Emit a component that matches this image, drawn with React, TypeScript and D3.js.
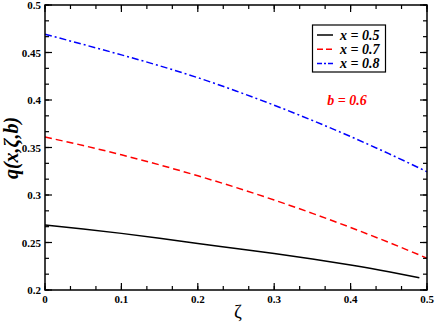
import React from "react";
import * as d3 from "d3";

const zeta = [0, 0.05, 0.1, 0.15, 0.2, 0.25, 0.3, 0.35, 0.4, 0.45, 0.5];
const zetaBlack = [0, 0.05, 0.1, 0.15, 0.2, 0.25, 0.3, 0.35, 0.4, 0.45, 0.49];
const qX05 = [0.2685, 0.2643, 0.2596, 0.2545, 0.249, 0.2438, 0.2385, 0.2326, 0.2262, 0.2192, 0.213];
const qX07 = [0.361, 0.3521, 0.3423, 0.3317, 0.3202, 0.3079, 0.2947, 0.2807, 0.2658, 0.2501, 0.2335];
const qX08 = [0.4692, 0.4585, 0.4475, 0.436, 0.4235, 0.4095, 0.3945, 0.3785, 0.3615, 0.3435, 0.3245];
const legendLabels = ["x = 0.5", "x = 0.7", "x = 0.8"];
const xTicks = [0, 0.1, 0.2, 0.3, 0.4, 0.5];
const yTicks = [0.2, 0.25, 0.3, 0.35, 0.4, 0.45, 0.5];

const W = 436, H = 327;
const L = 45, R = 427, T = 5, B = 290;

export default function App() {
  const x = d3.scaleLinear().domain([0, 0.5]).range([L, R]);
  const y = d3.scaleLinear().domain([0.2, 0.5]).range([B, T]);
  const line = d3.line<[number, number]>().x(d => x(d[0])).y(d => y(d[1])).curve(d3.curveMonotoneX);

  const series = [
    { xs: zetaBlack, ys: qX05, color: "#000", dash: "none" },
    { xs: zeta, ys: qX07, color: "#ff0000", dash: "7,4" },
    { xs: zeta, ys: qX08, color: "#0000ff", dash: "7,3,2,3" },
  ];

  const xMinor = d3.range(0, 0.5001, 0.1 / 3);
  const yMinor = d3.range(0.2, 0.5001, 0.05 / 3);
  const font = "'Liberation Serif', 'Times New Roman', 'DejaVu Serif', serif";

  return (
    <svg width={W} height={H} style={{ position: "absolute", left: 0, top: 0 }}>
      <rect width={W} height={H} fill="#fff" />
      {series.map((s, i) => (
        <path key={i} d={line(s.xs.map((v, j) => [v, s.ys[j]]) as [number, number][]) || ""}
          fill="none" stroke={s.color} strokeWidth={1.5} strokeDasharray={s.dash} />
      ))}
      {xMinor.map((v, i) => (
        <g key={"xm" + i} stroke="#000" strokeWidth={1.2}>
          <line x1={x(v)} x2={x(v)} y1={B} y2={B - 4} />
          <line x1={x(v)} x2={x(v)} y1={T} y2={T + 4} />
        </g>
      ))}
      {xTicks.map((v, i) => (
        <g key={"xt" + i}>
          <line x1={x(v)} x2={x(v)} y1={B} y2={B - 7} stroke="#000" strokeWidth={1.2} />
          <line x1={x(v)} x2={x(v)} y1={T} y2={T + 7} stroke="#000" strokeWidth={1.2} />
          <text x={x(v)} y={B + 13} textAnchor="middle" fontFamily={font} fontWeight="bold" fontSize={11}>{String(v)}</text>
        </g>
      ))}
      {yMinor.map((v, i) => (
        <g key={"ym" + i} stroke="#000" strokeWidth={1.2}>
          <line x1={L} x2={L + 4} y1={y(v)} y2={y(v)} />
          <line x1={R} x2={R - 4} y1={y(v)} y2={y(v)} />
        </g>
      ))}
      {yTicks.map((v, i) => (
        <g key={"yt" + i}>
          <line x1={L} x2={L + 7} y1={y(v)} y2={y(v)} stroke="#000" strokeWidth={1.2} />
          <line x1={R} x2={R - 7} y1={y(v)} y2={y(v)} stroke="#000" strokeWidth={1.2} />
          <text x={L - 4} y={y(v) + 4} textAnchor="end" fontFamily={font} fontWeight="bold" fontSize={11}>{String(v)}</text>
        </g>
      ))}
      <rect x={L} y={T} width={R - L} height={B - T} fill="none" stroke="#000" strokeWidth={1.5} />
      <rect x={312.5} y={25} width={73} height={47} fill="#fff" stroke="#000" strokeWidth={1.2} />
      {series.map((s, i) => (
        <g key={"lg" + i}>
          <line x1={317} x2={333} y1={35 + i * 14.2} y2={35 + i * 14.2} stroke={s.color} strokeWidth={1.5}
            strokeDasharray={i === 0 ? "none" : i === 1 ? "6,3" : "5,2,2,2"} />
          <text x={340} y={35 + i * 14.2 + 4.8} fontFamily={font} fontWeight="bold" fontStyle="italic" fontSize={14}>{legendLabels[i]}</text>
        </g>
      ))}
      <text x={347} y={105} textAnchor="middle" fill="#ff0000" fontFamily={font} fontWeight="bold" fontStyle="italic" fontSize={14}>b = 0.6</text>
      <text x={238} y={318} textAnchor="middle" fontFamily={font} fontSize={19}>ζ</text>
      <text transform="translate(18,148) rotate(-90)" textAnchor="middle" fontFamily={font} fontWeight="bold" fontStyle="italic" fontSize={20}>q(x,ζ,b)</text>
    </svg>
  );
}
